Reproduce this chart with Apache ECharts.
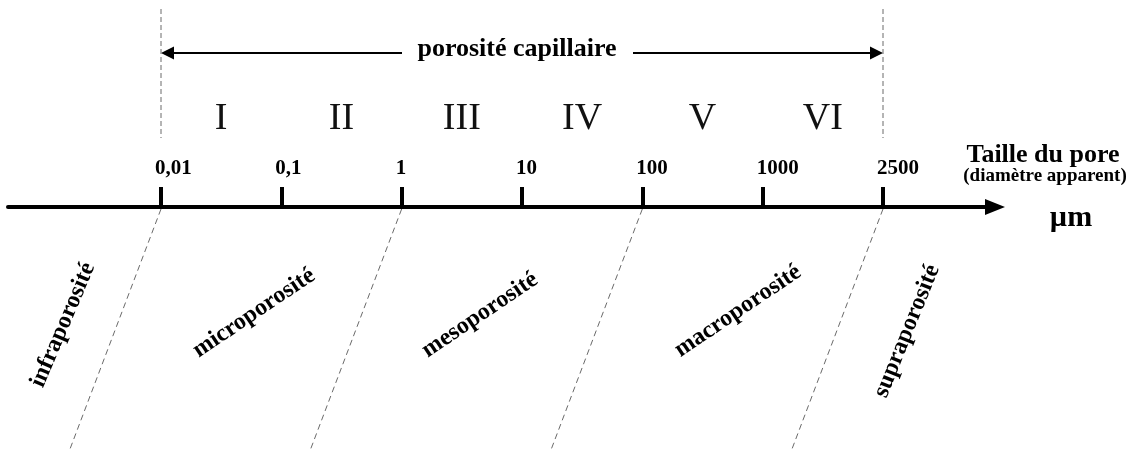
<!DOCTYPE html>
<html><head><meta charset="utf-8">
<script src="https://cdn.jsdelivr.net/npm/echarts@6/dist/echarts.min.js"></script>
<style>html,body{margin:0;padding:0;background:#fff}#c{width:1138px;height:449px}</style>
</head><body><div id="c"></div>
<script>
// ---- data ----
const tickLabels = ['0,01', '0,1', '1', '10', '100', '1000', '2500'];
const classes = ['I', 'II', 'III', 'IV', 'V', 'VI'];
const zoneNames = ['infraporosité', 'microporosité', 'mesoporosité', 'macroporosité', 'supraporosité'];
const zoneBounds = [0, 2, 4, 6];          // tick indices: 0,01 / 1 / 100 / 2500 µm
const capillaryRange = [0, 6];            // porosité capillaire: 0,01 → 2500 µm
const rangeLabel = 'porosité capillaire';
const axisTitle = 'Taille du pore';
const axisSubtitle = '(diamètre apparent)';
const axisUnit = 'µm';

// ---- layout (pixels → axis units) ----
const W = 1138, H = 449;
const X0 = 161, S = (883 - 161) / 6;
const AXIS_Y = 207;
const SERIF = '"Liberation Serif", "Times New Roman", serif';
const INK = '#000';
const DASH = '#6a6a6a';
const px = p => (p - X0) / S;
const LABEL_SHIFT = -6 / S;   // tick labels start slightly left of their tick

// zone label anchors (x in px, y in px, rotation)
const zoneLayout = [
  { x: 63, y: 325, r: 67 },
  { x: 254, y: 313, r: 34 },
  { x: 480, y: 315, r: 34 },
  { x: 738, y: 311, r: 34 },
  { x: 907, y: 331, r: 68 }
];

const series = [];

// vertical dashed bounds of the capillary range
capillaryRange.forEach(b => series.push({
  type: 'line', xAxisIndex: 0, yAxisIndex: 0, symbol: 'none', silent: true,
  data: [[b, 9], [b, 138]],
  lineStyle: { color: DASH, width: 1, type: [5, 3] }
}));

// slanted dashed separators below the axis
const SLANT = -91 / S;
zoneBounds.forEach(b => series.push({
  type: 'line', xAxisIndex: 0, yAxisIndex: 0, symbol: 'none', silent: true,
  data: [[b, AXIS_Y + 2], [b + SLANT, H]],
  lineStyle: { color: DASH, width: 1, type: [6, 4] }
}));

// double arrow "porosité capillaire"
const HEAD = 13;
series.push({
  type: 'lines', coordinateSystem: 'cartesian2d', xAxisIndex: 0, yAxisIndex: 0, silent: true,
  symbol: ['none', 'triangle'], symbolSize: HEAD,
  lineStyle: { color: INK, width: 2, opacity: 1 },
  data: [
    { coords: [[px(402), 53], [capillaryRange[0] + (HEAD / 2) / S, 53]] },
    { coords: [[px(633), 53], [capillaryRange[1] - (HEAD / 2) / S, 53]] }
  ]
});

function textSeries(items) {
  return {
    type: 'scatter', xAxisIndex: 0, yAxisIndex: 0, silent: true, clip: false,
    symbolSize: 1, itemStyle: { color: 'rgba(0,0,0,0)', opacity: 1 },
    data: items.map(it => ({
      value: [it.x, it.y], name: it.text,
      label: Object.assign({
        show: true, position: 'inside', formatter: '{b}', color: INK, opacity: 1,
        fontFamily: SERIF, align: 'center', verticalAlign: 'middle'
      }, it.label)
    }))
  };
}

series.push(textSeries([{ x: px(517), y: 49, text: rangeLabel, label: { fontSize: 26, fontWeight: 'bold' } }]));

series.push(textSeries(classes.map((c, i) => ({
  x: i + 0.5, y: 119, text: c, label: { fontSize: 38, fontWeight: 'normal', color: '#111' }
}))));

series.push(textSeries(zoneNames.map((n, i) => ({
  x: px(zoneLayout[i].x), y: zoneLayout[i].y, text: n,
  label: { fontSize: 24, fontWeight: 'bold', rotate: zoneLayout[i].r }
}))));

series.push(textSeries([
  { x: px(1043), y: 155, text: axisTitle, label: { fontSize: 26, fontWeight: 'bold' } },
  { x: px(1045), y: 176, text: axisSubtitle, label: { fontSize: 19, fontWeight: 'bold' } },
  { x: px(1071), y: 218, text: axisUnit, label: { fontSize: 30, fontWeight: 'bold' } }
]));

const chart = echarts.init(document.getElementById('c'), null, { renderer: 'canvas' });
chart.setOption({
  animation: false,
  backgroundColor: '#fff',
  grid: [
    { left: 0, right: 0, top: 0, bottom: 0 },
    { left: 8, right: W - 995, top: 0, height: AXIS_Y }
  ],
  xAxis: [
    { gridIndex: 0, type: 'value', min: px(0), max: px(W), show: false },
    {
      gridIndex: 1, type: 'value', min: px(8), max: px(995),
      axisLine: {
        show: true, onZero: false, symbol: ['none', 'triangle'], symbolSize: [16, 20],
        lineStyle: { color: INK, width: 4 }
      },
      axisTick: {
        show: true, inside: true, length: 20, customValues: tickLabels.map((_, i) => i),
        lineStyle: { color: INK, width: 4 }
      },
      axisLabel: {
        show: true, inside: true, margin: 28, align: 'left',
        customValues: tickLabels.map((_, i) => i + LABEL_SHIFT),
        formatter: v => tickLabels[Math.round(v)],
        fontFamily: SERIF, fontWeight: 'bold', fontSize: 21, color: INK
      },
      splitLine: { show: false }
    }
  ],
  yAxis: [
    { gridIndex: 0, type: 'value', min: 0, max: H, inverse: true, show: false },
    { gridIndex: 1, type: 'value', min: 0, max: 1, show: false }
  ],
  series: series
});
</script></body></html>
